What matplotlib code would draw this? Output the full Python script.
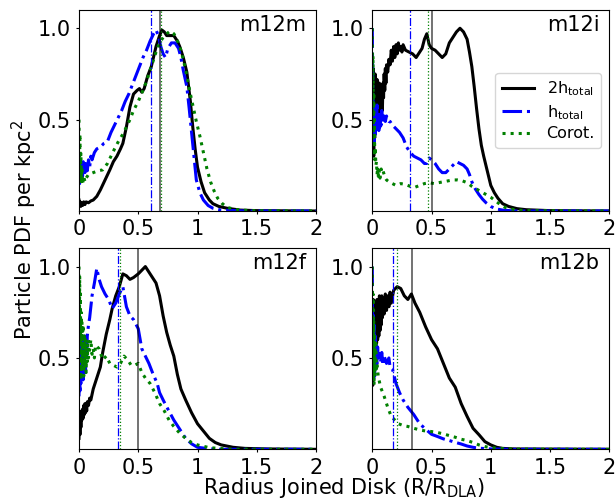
import matplotlib
matplotlib.use("Agg")
import matplotlib.pyplot as plt
from matplotlib.ticker import FuncFormatter

plt.rcParams["font.family"] = ["DejaVu Sans"]
plt.rcParams["mathtext.fontset"] = "dejavusans"

# ---------------- data: normalised particle PDF vs R/R_DLA ----------------
panel_names = ["m12m", "m12i", "m12f", "m12b"]
series_labels = [r"2h$_{\mathrm{total}}$", r"h$_{\mathrm{total}}$", "Corot."]

# m12m
m12m_x_2h = [0.0, 0.005, 0.01, 0.015, 0.02, 0.03, 0.04, 0.05, 0.06, 0.08, 0.10, 0.12, 0.15, 0.18, 0.22,
             0.26, 0.29, 0.32, 0.35, 0.37, 0.40, 0.43, 0.46, 0.49, 0.51, 0.53, 0.55, 0.58, 0.61, 0.65,
             0.68, 0.70, 0.72, 0.74, 0.77, 0.80, 0.83, 0.85, 0.88, 0.91, 0.94, 0.96, 0.98, 1.00, 1.03,
             1.06, 1.10, 1.13, 1.18, 1.25, 1.36, 1.5, 2.0]
m12m_y_2h = [0.06, 0.03, 0.05, 0.025, 0.045, 0.03, 0.05, 0.035, 0.05, 0.045, 0.055, 0.06, 0.08, 0.115,
             0.17, 0.225, 0.27, 0.30, 0.34, 0.37, 0.46, 0.57, 0.64, 0.66, 0.67, 0.65, 0.67, 0.74, 0.79,
             0.90, 0.96, 0.99, 0.98, 0.96, 0.96, 0.96, 0.93, 0.90, 0.84, 0.76, 0.60, 0.46, 0.34, 0.24,
             0.16, 0.10, 0.06, 0.04, 0.025, 0.015, 0.005, 0.002, 0.0]
m12m_x_h = [0.0, 0.004, 0.008, 0.012, 0.016, 0.02, 0.025, 0.03, 0.035, 0.04, 0.045, 0.05, 0.06, 0.07,
            0.08, 0.09, 0.10, 0.11, 0.13, 0.15, 0.18, 0.21, 0.24, 0.27, 0.30, 0.33, 0.36, 0.39, 0.42,
            0.45, 0.48, 0.51, 0.54, 0.57, 0.60, 0.63, 0.65, 0.67, 0.69, 0.71, 0.73, 0.75, 0.78, 0.81,
            0.84, 0.86, 0.88, 0.91, 0.93, 0.95, 0.97, 0.99, 1.02, 1.05, 1.09, 1.13, 1.2, 1.4, 2.0]
m12m_y_h = [0.27, 0.14, 0.28, 0.16, 0.26, 0.17, 0.25, 0.19, 0.27, 0.20, 0.26, 0.21, 0.27, 0.22, 0.28,
            0.24, 0.30, 0.28, 0.32, 0.34, 0.35, 0.37, 0.38, 0.43, 0.47, 0.51, 0.55, 0.60, 0.64, 0.69,
            0.74, 0.79, 0.84, 0.88, 0.93, 0.97, 0.99, 0.96, 0.90, 0.86, 0.84, 0.89, 0.92, 0.92, 0.89,
            0.84, 0.77, 0.68, 0.56, 0.43, 0.30, 0.17, 0.10, 0.06, 0.03, 0.015, 0.005, 0.0, 0.0]
m12m_x_c = [0.0, 0.004, 0.008, 0.012, 0.016, 0.02, 0.025, 0.03, 0.04, 0.05, 0.06, 0.08, 0.12, 0.16, 0.20,
            0.24, 0.27, 0.30, 0.34, 0.37, 0.40, 0.43, 0.46, 0.50, 0.54, 0.57, 0.60, 0.63, 0.66, 0.68,
            0.71, 0.74, 0.77, 0.80, 0.82, 0.85, 0.88, 0.91, 0.94, 0.97, 0.99, 1.02, 1.05, 1.08, 1.11,
            1.14, 1.17, 1.21, 1.25, 1.32, 1.45, 2.0]
m12m_y_c = [0.50, 0.22, 0.42, 0.18, 0.32, 0.16, 0.24, 0.15, 0.19, 0.16, 0.18, 0.20, 0.21, 0.22, 0.225,
            0.26, 0.30, 0.34, 0.39, 0.42, 0.46, 0.50, 0.55, 0.60, 0.66, 0.71, 0.77, 0.83, 0.89, 0.92,
            0.95, 0.97, 0.985, 0.97, 0.95, 0.90, 0.83, 0.74, 0.64, 0.55, 0.49, 0.41, 0.32, 0.23, 0.16,
            0.11, 0.07, 0.04, 0.02, 0.008, 0.002, 0.0]

# m12i
m12i_x_2h = [0.0, 0.004, 0.008, 0.012, 0.016, 0.02, 0.024, 0.028, 0.032, 0.036, 0.04, 0.045, 0.05, 0.055,
             0.06, 0.065, 0.07, 0.075, 0.08, 0.085, 0.09, 0.095, 0.10, 0.105, 0.11, 0.115, 0.12, 0.13,
             0.14, 0.15, 0.16, 0.17, 0.18, 0.19, 0.20, 0.21, 0.22, 0.23, 0.24, 0.25, 0.26, 0.28, 0.31,
             0.34, 0.37, 0.40, 0.42, 0.44, 0.46, 0.48, 0.50, 0.53, 0.56, 0.59, 0.62, 0.65, 0.68, 0.71,
             0.74, 0.77, 0.80, 0.82, 0.84, 0.86, 0.88, 0.90, 0.92, 0.94, 0.97, 1.00, 1.03, 1.06, 1.10,
             1.15, 1.22, 1.3, 1.5, 2.0]
m12i_y_2h = [0.85, 0.35, 0.78, 0.30, 0.72, 0.40, 0.75, 0.45, 0.70, 0.50, 0.72, 0.52, 0.68, 0.55, 0.70,
             0.53, 0.65, 0.56, 0.62, 0.55, 0.70, 0.62, 0.75, 0.66, 0.78, 0.70, 0.80, 0.76, 0.83, 0.80,
             0.88, 0.82, 0.90, 0.84, 0.91, 0.86, 0.92, 0.88, 0.90, 0.87, 0.91, 0.88, 0.87, 0.86, 0.84,
             0.87, 0.89, 0.94, 0.97, 0.91, 0.89, 0.88, 0.86, 0.84, 0.86, 0.92, 0.95, 0.98, 1.0, 0.98,
             0.94, 0.87, 0.79, 0.68, 0.56, 0.45, 0.36, 0.30, 0.22, 0.14, 0.10, 0.07, 0.04, 0.025, 0.013,
             0.007, 0.002, 0.0]
m12i_x_h = [0.0, 0.003, 0.006, 0.01, 0.014, 0.018, 0.022, 0.026, 0.03, 0.035, 0.04, 0.045, 0.05, 0.055,
            0.06, 0.065, 0.07, 0.075, 0.08, 0.085, 0.09, 0.095, 0.10, 0.11, 0.12, 0.13, 0.14, 0.15,
            0.17, 0.20, 0.23, 0.26, 0.29, 0.32, 0.35, 0.38, 0.41, 0.44, 0.46, 0.48, 0.50, 0.53, 0.56,
            0.59, 0.62, 0.65, 0.68, 0.71, 0.74, 0.77, 0.80, 0.82, 0.84, 0.87, 0.90, 0.93, 0.96, 1.0,
            1.04, 1.1, 1.2, 2.0]
m12i_y_h = [1.0, 0.75, 0.60, 0.40, 0.58, 0.38, 0.56, 0.42, 0.55, 0.44, 0.58, 0.45, 0.53, 0.44, 0.54,
            0.46, 0.52, 0.47, 0.55, 0.48, 0.53, 0.50, 0.52, 0.49, 0.52, 0.50, 0.49, 0.49, 0.47, 0.45,
            0.43, 0.40, 0.35, 0.32, 0.30, 0.29, 0.28, 0.26, 0.26, 0.29, 0.28, 0.26, 0.23, 0.21, 0.21,
            0.23, 0.25, 0.27, 0.26, 0.25, 0.23, 0.20, 0.16, 0.12, 0.09, 0.065, 0.045, 0.025, 0.012,
            0.005, 0.0, 0.0]
m12i_x_c = [0.0, 0.003, 0.006, 0.009, 0.012, 0.015, 0.018, 0.021, 0.025, 0.03, 0.035, 0.04, 0.045, 0.05,
            0.055, 0.06, 0.065, 0.07, 0.075, 0.08, 0.09, 0.10, 0.11, 0.12, 0.14, 0.17, 0.20, 0.24, 0.28,
            0.32, 0.36, 0.40, 0.44, 0.48, 0.52, 0.56, 0.60, 0.64, 0.68, 0.72, 0.76, 0.80, 0.84, 0.88,
            0.92, 0.96, 1.00, 1.04, 1.08, 1.12, 1.16, 1.22, 1.3, 2.0]
m12i_y_c = [1.0, 0.55, 0.85, 0.40, 0.65, 0.30, 0.50, 0.28, 0.35, 0.25, 0.27, 0.20, 0.24, 0.19, 0.23,
            0.21, 0.18, 0.20, 0.23, 0.21, 0.22, 0.20, 0.18, 0.17, 0.16, 0.15, 0.14, 0.15, 0.145, 0.135,
            0.13, 0.14, 0.15, 0.155, 0.15, 0.155, 0.16, 0.165, 0.17, 0.17, 0.165, 0.155, 0.135, 0.12,
            0.105, 0.09, 0.075, 0.055, 0.035, 0.02, 0.012, 0.006, 0.002, 0.0]

# m12f
m12f_x_2h = [0.0, 0.004, 0.008, 0.012, 0.016, 0.02, 0.025, 0.03, 0.035, 0.04, 0.045, 0.05, 0.055, 0.06,
             0.065, 0.07, 0.08, 0.09, 0.10, 0.12, 0.15, 0.18, 0.20, 0.23, 0.26, 0.28, 0.31, 0.34, 0.37,
             0.40, 0.43, 0.46, 0.50, 0.53, 0.56, 0.59, 0.62, 0.65, 0.68, 0.71, 0.74, 0.77, 0.80, 0.83,
             0.86, 0.90, 0.95, 1.00, 1.05, 1.10, 1.15, 1.20, 1.30, 1.40, 1.6, 2.0]
m12f_y_2h = [0.06, 0.18, 0.08, 0.20, 0.12, 0.21, 0.16, 0.22, 0.17, 0.24, 0.19, 0.25, 0.20, 0.24, 0.21,
             0.26, 0.24, 0.28, 0.27, 0.33, 0.39, 0.45, 0.53, 0.63, 0.71, 0.77, 0.84, 0.89, 0.96, 0.95,
             0.93, 0.94, 0.96, 0.98, 1.0, 0.97, 0.94, 0.91, 0.84, 0.73, 0.64, 0.57, 0.51, 0.41, 0.33,
             0.27, 0.20, 0.14, 0.10, 0.06, 0.037, 0.024, 0.011, 0.005, 0.002, 0.0]
m12f_x_h = [0.0, 0.004, 0.008, 0.012, 0.016, 0.02, 0.025, 0.03, 0.035, 0.04, 0.045, 0.05, 0.055, 0.06,
            0.065, 0.07, 0.08, 0.09, 0.11, 0.13, 0.15, 0.17, 0.19, 0.22, 0.25, 0.28, 0.31, 0.34, 0.37,
            0.40, 0.43, 0.46, 0.50, 0.53, 0.56, 0.59, 0.62, 0.66, 0.68, 0.71, 0.75, 0.80, 0.85, 0.90,
            0.95, 1.00, 1.10, 1.2, 2.0]
m12f_y_h = [0.29, 0.58, 0.32, 0.60, 0.36, 0.55, 0.40, 0.60, 0.38, 0.58, 0.45, 0.62, 0.42, 0.60, 0.50,
            0.62, 0.68, 0.72, 0.84, 0.91, 0.99, 0.93, 0.89, 0.85, 0.82, 0.77, 0.80, 0.85, 0.89, 0.78,
            0.73, 0.71, 0.66, 0.55, 0.51, 0.47, 0.42, 0.36, 0.31, 0.27, 0.22, 0.16, 0.11, 0.06, 0.03,
            0.011, 0.003, 0.0, 0.0]
m12f_x_c = [0.0, 0.003, 0.006, 0.009, 0.012, 0.015, 0.018, 0.021, 0.025, 0.03, 0.035, 0.04, 0.045, 0.05,
            0.055, 0.06, 0.065, 0.07, 0.075, 0.08, 0.09, 0.10, 0.11, 0.12, 0.13, 0.14, 0.17, 0.20, 0.23,
            0.26, 0.29, 0.32, 0.35, 0.38, 0.41, 0.44, 0.47, 0.50, 0.53, 0.56, 0.60, 0.64, 0.68, 0.72,
            0.76, 0.80, 0.85, 0.90, 0.95, 1.00, 1.10, 1.20, 1.3, 2.0]
m12f_y_c = [1.0, 0.60, 0.95, 0.45, 0.85, 0.38, 0.75, 0.42, 0.70, 0.45, 0.68, 0.40, 0.62, 0.45, 0.60,
            0.42, 0.58, 0.48, 0.60, 0.50, 0.55, 0.60, 0.52, 0.55, 0.50, 0.57, 0.55, 0.49, 0.51, 0.47,
            0.46, 0.45, 0.47, 0.51, 0.49, 0.46, 0.46, 0.47, 0.42, 0.39, 0.36, 0.31, 0.25, 0.21, 0.16,
            0.125, 0.088, 0.06, 0.037, 0.024, 0.009, 0.004, 0.0, 0.0]

# m12b
m12b_x_2h = [0.0, 0.004, 0.008, 0.012, 0.016, 0.02, 0.024, 0.028, 0.032, 0.036, 0.04, 0.045, 0.05, 0.055,
             0.06, 0.065, 0.07, 0.075, 0.08, 0.085, 0.09, 0.10, 0.11, 0.12, 0.13, 0.14, 0.15, 0.16, 0.18,
             0.21, 0.24, 0.27, 0.30, 0.33, 0.36, 0.40, 0.45, 0.50, 0.55, 0.60, 0.65, 0.70, 0.75, 0.80,
             0.85, 0.90, 0.95, 1.00, 1.05, 1.10, 1.2, 2.0]
m12b_y_2h = [0.80, 0.35, 0.82, 0.40, 0.78, 0.45, 0.80, 0.52, 0.75, 0.58, 0.82, 0.60, 0.78, 0.62, 0.84,
             0.65, 0.80, 0.68, 0.84, 0.72, 0.82, 0.74, 0.85, 0.76, 0.84, 0.78, 0.86, 0.80, 0.87, 0.89,
             0.88, 0.84, 0.82, 0.85, 0.80, 0.75, 0.67, 0.60, 0.55, 0.47, 0.39, 0.34, 0.25, 0.18, 0.115,
             0.08, 0.042, 0.024, 0.011, 0.005, 0.002, 0.0]
m12b_x_h = [0.0, 0.004, 0.008, 0.012, 0.016, 0.02, 0.025, 0.03, 0.035, 0.04, 0.045, 0.05, 0.06, 0.07,
            0.08, 0.09, 0.10, 0.12, 0.14, 0.15, 0.17, 0.20, 0.23, 0.26, 0.30, 0.35, 0.40, 0.45, 0.50,
            0.55, 0.60, 0.65, 0.70, 0.75, 0.80, 0.85, 0.90, 1.0, 1.2, 2.0]
m12b_y_h = [1.0, 0.55, 0.75, 0.38, 0.68, 0.40, 0.62, 0.45, 0.58, 0.47, 0.56, 0.50, 0.54, 0.48, 0.53,
            0.46, 0.51, 0.47, 0.50, 0.45, 0.44, 0.36, 0.31, 0.27, 0.23, 0.19, 0.14, 0.11, 0.082, 0.07,
            0.057, 0.048, 0.038, 0.029, 0.018, 0.011, 0.006, 0.002, 0.0, 0.0]
m12b_x_c = [0.0, 0.003, 0.006, 0.009, 0.012, 0.015, 0.018, 0.021, 0.025, 0.03, 0.035, 0.04, 0.05, 0.07,
            0.10, 0.13, 0.16, 0.19, 0.22, 0.26, 0.30, 0.35, 0.40, 0.45, 0.50, 0.55, 0.60, 0.65, 0.70,
            0.75, 0.80, 0.85, 0.90, 0.95, 1.00, 1.10, 1.2, 2.0]
m12b_y_c = [1.0, 0.50, 0.85, 0.38, 0.70, 0.35, 0.62, 0.40, 0.55, 0.58, 0.44, 0.47, 0.40, 0.34, 0.29,
            0.23, 0.18, 0.16, 0.14, 0.13, 0.125, 0.115, 0.106, 0.10, 0.097, 0.092, 0.084, 0.075, 0.066,
            0.055, 0.048, 0.037, 0.024, 0.015, 0.009, 0.004, 0.001, 0.0]

# characteristic radii (vertical markers): 2h_total, h_total, corotating
vline_2h = [0.685, 0.504, 0.495, 0.332]
vline_h = [0.607, 0.318, 0.332, 0.172]
vline_c = [0.690, 0.467, 0.344, 0.206]

x_ticks = [0, 0.5, 1, 1.5, 2]
y_ticks = [0.5, 1.0]

panels = [
    (m12m_x_2h, m12m_y_2h, m12m_x_h, m12m_y_h, m12m_x_c, m12m_y_c),
    (m12i_x_2h, m12i_y_2h, m12i_x_h, m12i_y_h, m12i_x_c, m12i_y_c),
    (m12f_x_2h, m12f_y_2h, m12f_x_h, m12f_y_h, m12f_x_c, m12f_y_c),
    (m12b_x_2h, m12b_y_2h, m12b_x_h, m12b_y_h, m12b_x_c, m12b_y_c),
]

# ---------------- figure ----------------
W, H = 615, 504
fig = plt.figure(figsize=(W / 100, H / 100), dpi=100)

ax_w, ax_h = 237 / W, 201 / H
lefts = [79 / W, 372.3 / W]
bottoms = [1 - 211 / H, 1 - 449.3 / H]
positions = [(lefts[0], bottoms[0]), (lefts[1], bottoms[0]),
             (lefts[0], bottoms[1]), (lefts[1], bottoms[1])]

lw = 2.2
fs = 15
for i, (name, data, pos) in enumerate(zip(panel_names, panels, positions)):
    ax = fig.add_axes([pos[0], pos[1], ax_w, ax_h])
    x2, y2, xh, yh, xc, yc = data
    ax.plot(x2, y2, color="black", lw=lw, ls="-", label=series_labels[0])
    ax.plot(xh, yh, color="blue", lw=lw, ls="-.", label=series_labels[1])
    ax.plot(xc, yc, color="green", lw=lw, ls=":", label=series_labels[2])

    ax.axvline(vline_2h[i], color="black", alpha=0.7, lw=1.1)
    ax.axvline(vline_h[i], color="blue", lw=0.9, ls="-.")
    ax.axvline(vline_c[i], color="green", lw=0.9, ls=":")

    ax.set_xlim(0, 2)
    ax.set_ylim(0, 1.1)
    ax.set_xticks(x_ticks)
    ax.set_yticks(y_ticks)
    ax.xaxis.set_major_formatter(FuncFormatter(lambda v, p: f"{v:g}"))
    ax.yaxis.set_major_formatter(FuncFormatter(lambda v, p: f"{v:.1f}"))
    ax.tick_params(labelsize=fs, length=2.5, width=0.8, pad=3.5)

    ax.text(0.958, 0.975, name, transform=ax.transAxes, ha="right", va="top", fontsize=fs)

    if i == 1:
        ax.legend(loc="center right", fontsize=11.5, handlelength=2.0,
                  labelspacing=0.3, bbox_to_anchor=(1.0, 0.5))

fig.text(0.039, (bottoms[1] + bottoms[0] + ax_h) / 2, r"Particle PDF per kpc$^2$",
         rotation=90, ha="center", va="center", fontsize=fs)
fig.text((lefts[0] + lefts[1] + ax_w) / 2, 1 - 488 / H,
         r"Radius Joined Disk (R/R$_{\mathrm{DLA}}$)", ha="center", va="center", fontsize=fs)

fig.savefig("out.png", dpi=100)
